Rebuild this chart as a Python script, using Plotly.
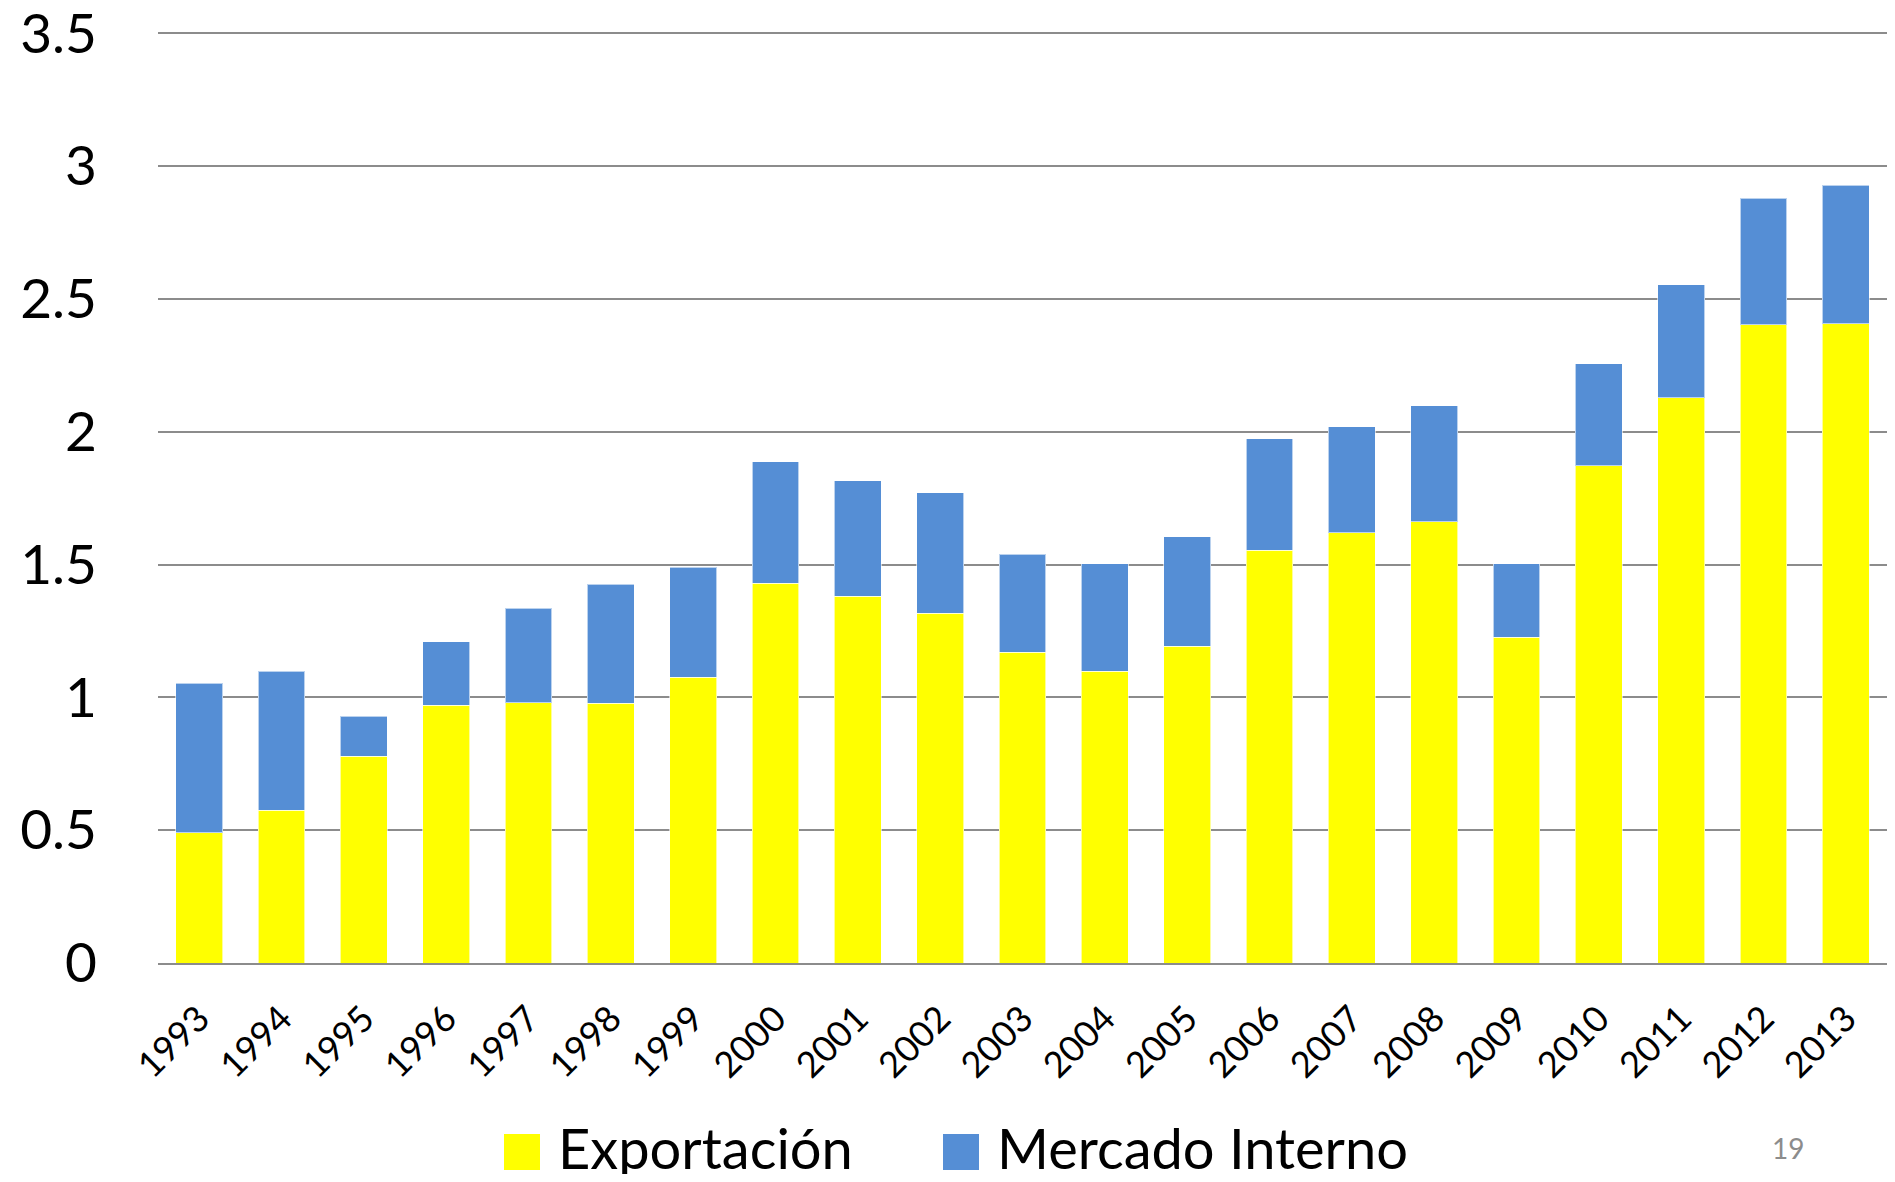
import plotly.graph_objects as go

years = [str(y) for y in range(1993, 2014)]
exportacion = [0.49, 0.575, 0.778, 0.97, 0.98, 0.977, 1.075, 1.429, 1.38, 1.316, 1.169,
               1.098, 1.192, 1.553, 1.62, 1.662, 1.226, 1.872, 2.128, 2.402, 2.406]
mercado_interno = [0.563, 0.523, 0.151, 0.24, 0.355, 0.448, 0.414, 0.458, 0.436, 0.455, 0.369,
                   0.406, 0.413, 0.421, 0.399, 0.436, 0.278, 0.384, 0.425, 0.478, 0.523]
series_names = ["Exportación", "Mercado Interno"]
series_colors = ["#FFFF00", "#558ED5"]
y_ticks = [0, 0.5, 1, 1.5, 2, 2.5, 3, 3.5]
Y_MAX = 3.505

FONT = "Lato, 'Open Sans', sans-serif"
# page has an 8px body margin; size the figure so it fits the 1895x1182 window
PAGE_OFF = 8
W, H = 1895 - 2 * PAGE_OFF, 1182 - 2 * PAGE_OFF
# plot area in page pixels
PX0, PX1 = 158, PAGE_OFF + W
PY_ZERO = 963
PX_PER_UNIT = 930 / 3.5
PY_TOP = PY_ZERO - Y_MAX * PX_PER_UNIT


def paper_x(px):
    return (px - PX0) / (PX1 - PX0)


def paper_y(py):
    return (PY_ZERO - py) / (PY_ZERO - PY_TOP)


fig = go.Figure()
for name, vals, col in zip(series_names, [exportacion, mercado_interno], series_colors):
    fig.add_trace(go.Bar(x=years, y=vals, name=name, marker_color=col,
                         marker_line=dict(color="rgba(255,255,255,0.6)", width=1)))

fig.update_layout(
    width=W, height=H,
    barmode="stack", bargap=0.43,
    plot_bgcolor="white", paper_bgcolor="white",
    margin=dict(l=PX0 - PAGE_OFF, r=0, t=round(PY_TOP - PAGE_OFF),
                b=H - (PY_ZERO - PAGE_OFF), pad=0, autoexpand=False),
    showlegend=False,
    font=dict(family=FONT, color="black"),
)
fig.update_yaxes(range=[0, Y_MAX], tickvals=y_ticks, showgrid=True, gridcolor="#8c8c8c",
                 gridwidth=2, zeroline=False, showline=False, ticks="", automargin=False,
                 tickfont=dict(size=55), ticklabelstandoff=60, ticklabeloverflow="allow")
fig.update_xaxes(showline=True, linecolor="#8c8c8c", linewidth=2, ticks="", automargin=False,
                 tickangle=-45, tickfont=dict(size=36), ticklabelstandoff=18)

# legend drawn by hand so the swatches match the large text
legend_items = [(series_names[0], series_colors[0], 504), (series_names[1], series_colors[1], 943)]
for label, col, px in legend_items:
    fig.add_shape(type="rect", xref="paper", yref="paper",
                  x0=paper_x(px), x1=paper_x(px + 36),
                  y0=paper_y(1170), y1=paper_y(1134),
                  fillcolor=col, line_width=0)
    fig.add_annotation(text=label, xref="paper", yref="paper",
                       x=paper_x(px + 52), y=paper_y(1148),
                       xanchor="left", yanchor="middle", showarrow=False,
                       font=dict(size=56, family=FONT, color="black"))

fig.add_annotation(text="19", xref="paper", yref="paper",
                   x=paper_x(1788), y=paper_y(1148),
                   xanchor="center", yanchor="middle", showarrow=False,
                   font=dict(size=28, family=FONT, color="#8c8c8c"))

fig.write_html("out.html")
